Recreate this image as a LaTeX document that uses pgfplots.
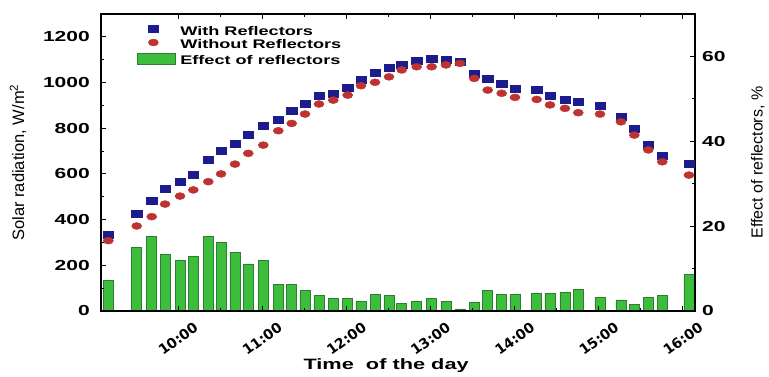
\documentclass[border=0pt]{standalone}
\usepackage{fontspec}
\setmainfont{Liberation Sans}
\newfontfamily\wide{DejaVu Sans}
\usepackage{graphicx}
\usepackage{pgfplots}
\pgfplotsset{compat=1.18}
\usepackage{pgfplotstable}
\definecolor{withc}{RGB}{28,28,140}
\definecolor{woc}{RGB}{190,50,50}
\definecolor{barg}{RGB}{60,190,60}
\definecolor{bare}{RGB}{46,125,50}
\newcommand\hs[1]{\scalebox{1.45}[1]{#1}}

\pgfplotstableread{
t w wo e
9.172 333 308 7.2
9.509 428 372 14.9
9.688 483 413 17.5
9.846 537 468 13.3
10.024 566 503 11.9
10.182 595 530 12.8
10.360 664 566 17.5
10.511 700 600 16.2
10.677 734 643 13.8
10.835 770 690 11.1
11.013 810 726 11.9
11.192 839 789 6.2
11.351 877 821 6.2
11.509 906 862 4.8
11.675 942 906 3.7
11.845 953 923 3.0
12.016 977 945 2.9
12.174 1014 986 2.2
12.341 1043 1001 3.9
12.507 1066 1025 3.7
12.658 1077 1055 1.8
12.836 1095 1069 2.3
13.014 1106 1069 2.9
13.184 1101 1077 2.3
13.350 1091 1084 0.5
13.520 1040 1018 2.1
13.680 1018 967 4.8
13.846 996 953 3.9
14.004 975 935 3.9
14.262 967 926 4.2
14.420 941 902 4.2
14.598 926 887 4.4
14.756 916 868 5.0
15.014 897 862 3.2
15.263 850 828 2.6
15.422 800 770 1.5
15.588 726 705 3.2
15.754 678 653 3.6
16.071 646 595 8.7
}\data

\pgfplotsset{
  common/.style={
    scale only axis, width=594pt, height=297pt,
    xmin=9.085, xmax=16.143,
    tick align=inside,
    major tick length=5pt, minor tick length=3pt,
    axis line style={line width=1.3pt},
    every tick/.style={line width=1pt, black},
    /pgf/number format/assume math mode=true,
    /pgf/number format/set thousands separator={},
  },
  markleg/.style={legend image code/.code={\path (0pt,0pt) (38pt,0pt); \draw[##1] plot coordinates {(16pt,3.5pt)};}},
  barleg/.style={legend image code/.code={\draw[##1] (0pt,-2.5pt) rectangle (38pt,9pt);}},
}

\begin{document}
\begin{tikzpicture}
% right axis: effect (bars)
\begin{axis}[common, name=axB,
  ymin=0, ymax=70,
  axis x line=none, axis y line*=right,
  ytick={0,20,40,60}, minor y tick num=1,
  yticklabel={\hs{\pgfmathprintnumber{\tick}}},
  yticklabel style={anchor=west, inner sep=0pt, xshift=7pt, font=\fontsize{14.5}{17}\selectfont\bfseries},
  ylabel={Effect of reflectors, \%},
  every axis y label/.style={at={(axis description cs:1.106,0.5)}, rotate=90, anchor=center, font=\fontsize{16}{19}\selectfont},
]
\addplot[ybar, bar width=0.119, fill=barg, draw=bare, line width=0.6pt] table[x=t, y=e] {\data};
\end{axis}
% left axis: solar radiation (markers)
\begin{axis}[common, name=axA,
  ymin=0, ymax=1300,
  xtick={10,11,12,13,14,15,16},
  xticklabels={10:00,11:00,12:00,13:00,14:00,15:00,16:00},
  minor x tick num=1,
  xtick pos=both, ytick pos=left,
  ytick={0,200,...,1200}, minor y tick num=1,
  xticklabel style={xshift=15pt, yshift=-10pt, rotate=36, anchor=north east, inner sep=0pt, font=\wide\fontsize{14}{16}\selectfont\bfseries},
  yticklabel={\hs{\pgfmathprintnumber{\tick}}},
  yticklabel style={anchor=east, inner sep=0pt, xshift=-11pt, font=\fontsize{14.5}{17}\selectfont\bfseries},
  xlabel={\hs{Time\ \ of the day}},
  every axis x label/.style={at={(axis description cs:0.48,-0.185)}, anchor=center, font=\fontsize{15}{18}\selectfont\bfseries},
  ylabel={Solar radiation, W/m\textsuperscript{2}},
  every axis y label/.style={at={(axis description cs:-0.1397,0.5)}, rotate=90, anchor=center, font=\fontsize{16.5}{19}\selectfont},
  legend style={at={(axis description cs:0.0606,0.962)}, anchor=north west, draw=none, fill=none,
    inner sep=0pt, outer sep=0pt, row sep=0pt, column sep=4pt,
    font=\fontsize{12.5}{14}\selectfont\bfseries,
    nodes={inner sep=0.5pt, text height=9pt, text depth=3.5pt}},
  legend cell align=left,
]
\addplot[only marks, mark=square*, mark size=3.5pt, color=withc, mark options={xscale=1.45}, markleg]
  table[x=t, y=w] {\data};
\addlegendentry{\hs{With Reflectors}}
\addplot[only marks, mark=*, mark size=3.5pt, color=woc, mark options={xscale=1.45}, markleg]
  table[x=t, y=wo] {\data};
\addlegendentry{\hs{Without Reflectors}}
\addlegendimage{fill=barg, draw=bare, line width=0.8pt, barleg}
\addlegendentry{\hs{Effect of reflectors}}
\end{axis}
\pgfresetboundingbox
\path[use as bounding box] ([shift={(-101pt,-66pt)}]axA.south west) rectangle ([shift={(74pt,14pt)}]axA.north east);
\end{tikzpicture}
\end{document}
